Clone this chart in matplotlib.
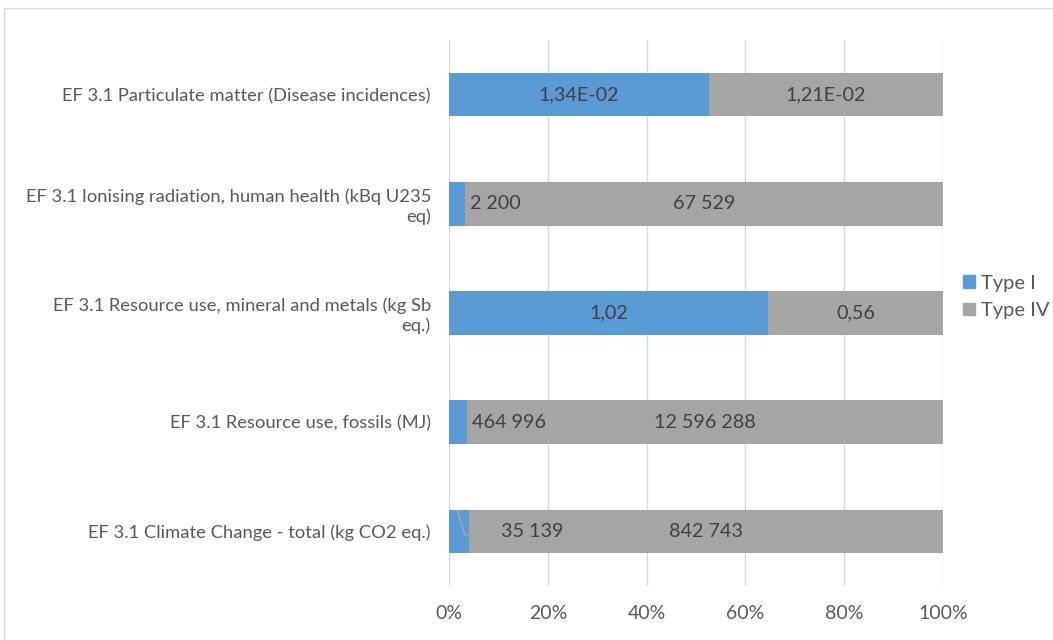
import matplotlib.pyplot as plt
import matplotlib.patches as mpatches

plt.rcParams['font.family'] = ['Lato', 'DejaVu Sans']

# categorias (de baixo para cima)
categorias = [
    "EF 3.1 Climate Change - total (kg CO2 eq.)",
    "EF 3.1 Resource use, fossils (MJ)",
    "EF 3.1 Resource use, mineral and metals (kg Sb\neq.)",
    "EF 3.1 Ionising radiation, human health (kBq U235\neq)",
    "EF 3.1 Particulate matter (Disease incidences)",
]
tipo1 = [35139, 464996, 1.02, 2200, 1.34e-02]
tipo4 = [842743, 12596288, 0.56, 67529, 1.21e-02]
rotulos1 = ["35 139", "464 996", "1,02", "2 200", "1,34E-02"]
rotulos4 = ["842 743", "12 596 288", "0,56", "67 529", "1,21E-02"]

azul = "#5B9BD5"
cinza = "#A5A5A5"
texto = "#595959"

fig = plt.figure(figsize=(10.53, 6.40), dpi=100)
ax = fig.add_axes([449 / 1053, 1 - 586 / 640, (943 - 449) / 1053, (586 - 40) / 640])

tot = [a + b for a, b in zip(tipo1, tipo4)]
p1 = [a / t * 100 for a, t in zip(tipo1, tot)]
p4 = [b / t * 100 for b, t in zip(tipo4, tot)]
y = list(range(len(categorias)))

ax.barh(y, p1, height=0.4, color=azul, zorder=3)
ax.barh(y, p4, left=p1, height=0.4, color=cinza, zorder=3)

fs = 14.2
for i in y:
    # rotulo tipo I: dentro se couber, senao logo a direita
    if p1[i] > 10:
        ax.text(p1[i] / 2, i, rotulos1[i], ha='center', va='center', fontsize=fs, color='#404040', zorder=4)
    else:
        xl = p1[i] + 1.0 if i != 0 else p1[i] + 6.5
        ax.text(xl, i, rotulos1[i], ha='left', va='center', fontsize=fs, color='#404040', zorder=4)
    ax.text(p1[i] + p4[i] / 2, i, rotulos4[i], ha='center', va='center', fontsize=fs, color='#404040', zorder=4)

# linha de chamada do climate change
ax.plot([1.7, 3.3, 4.2], [0.19, -0.04, -0.04], color='#A6A6A6', lw=1, zorder=4)

ax.set_xlim(0, 100)
ax.set_ylim(-0.5, len(categorias) - 0.5)
ax.set_xticks(range(0, 101, 20))
ax.set_xticklabels([f"{v}%" for v in range(0, 101, 20)])
ax.set_yticks(y)
ax.set_yticklabels(categorias, fontsize=13.2, color=texto)
ax.tick_params(axis='x', length=0, pad=14, labelsize=14, labelcolor=texto)
ax.tick_params(axis='y', length=0, pad=13)
ax.grid(axis='x', color='#D9D9D9', lw=1, zorder=0)
for s in ax.spines.values():
    s.set_visible(False)

proxy = [mpatches.Patch(color=azul, label='Type I'), mpatches.Patch(color=cinza, label='Type IV')]
fig.legend(handles=proxy, loc='center left', bbox_to_anchor=(945 / 1053, 1 - 297 / 640),
           frameon=False, fontsize=14.5, labelcolor=texto, handlelength=0.6, handleheight=0.6,
           handletextpad=0.3, labelspacing=0.5)

# borda da area do grafico
fig.patches.append(mpatches.Rectangle((4 / 1053, -0.01), 1.05, 1 - 8 / 640 + 0.01,
                                      transform=fig.transFigure, fill=False, edgecolor='#D9D9D9', lw=1))

fig.savefig("out.png", dpi=100)
